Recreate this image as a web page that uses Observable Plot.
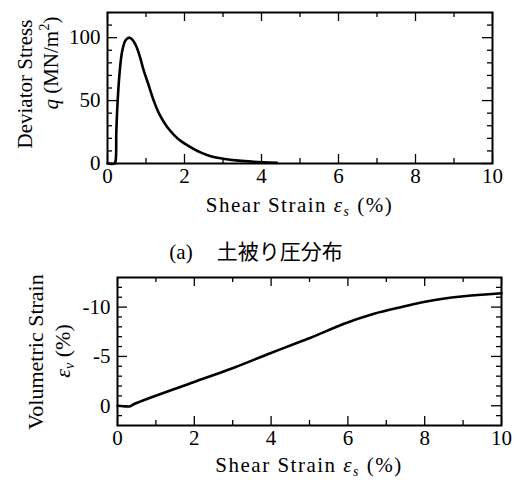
<!DOCTYPE html>
<html><head><meta charset="utf-8">
<script src="https://cdn.jsdelivr.net/npm/d3@7"></script>
<script src="https://cdn.jsdelivr.net/npm/@observablehq/plot@0.6"></script>
<style>
body{margin:0;background:#fff;}
#wrap{position:relative;width:518px;height:480px;font-family:"Liberation Serif","Times New Roman",serif;color:#000;overflow:hidden;}
#wrap svg{position:absolute;left:0;}
#wrap svg text{font-family:"Liberation Serif","Times New Roman",serif;}
.abs{position:absolute;white-space:nowrap;line-height:1;font-family:"Liberation Serif","Times New Roman",serif;}
.rot{transform:translate(-50%,-50%) rotate(-90deg);}
.ctr{transform:translate(-50%,-50%);}
.sb{position:relative;top:0.3em;font-size:0.65em;}
.sp{position:relative;top:-0.6em;font-size:0.7em;}
</style></head><body><div id="wrap"></div>
<script>
// Panel 1: deviator stress vs shear strain
const strainQ   = [0, 0.18, 0.21, 0.23, 0.27, 0.32, 0.38, 0.47, 0.58, 0.68, 0.75, 0.85, 0.94, 1.05, 1.2, 1.35, 1.55, 1.75, 1.9, 2.1, 2.4, 2.7, 3.0, 3.4, 3.8, 4.4];
const deviatorQ = [0, 0,    2,    26,   53,   74,   89,   98,   100,  97,   93,   84,   74,   64,   50,  39,   29,   22,   18,  14,  9,   5.6, 3.8, 2.3, 1.4, 0.5];
// Panel 2: volumetric strain vs shear strain
const strainV     = [0, 0.15, 0.33, 0.42, 0.94, 1.98, 3.03, 3.98, 4.77, 5.03, 5.90, 6.68, 7.38, 8.08, 8.95, 10.0];
const volumetricV = [0, 0.05, 0.05, -0.15, -0.94, -2.39, -3.85, -5.33, -6.51, -6.89, -8.31, -9.32, -9.99, -10.6, -11.07, -11.4];

const xTicksMajor = [0, 2, 4, 6, 8, 10];
const xTicksMinor = [1, 3, 5, 7, 9];
const qTicksMajor = [0, 50, 100];
const qTicksMinor = [10, 20, 30, 40, 60, 70, 80, 90, 110];
const vTicksMajor = [-10, -5, 0];
const vTicksMinor = [-12, -11, -9, -8, -7, -6, -4, -3, -2, -1, 1];

const xLabel = 'Shear Strain <i>ε<span class="sb">s</span></i> (%)';
const SERIF = '"Liberation Serif", "Times New Roman", serif';

function innerTicks(xMaj, xMin, yMaj, yMin, iw, ih) {
  const sw = 1.3, maj = 9, min = 5;
  const m = [];
  for (const [vals, len] of [[xMaj, maj], [xMin, min]]) {
    m.push(Plot.tickX(vals, {x: d => d, insetTop: ih - len, strokeWidth: sw}));
    m.push(Plot.tickX(vals, {x: d => d, insetBottom: ih - len, strokeWidth: sw}));
  }
  for (const [vals, len] of [[yMaj, 10], [yMin, min]]) {
    m.push(Plot.tickY(vals, {y: d => d, insetRight: iw - len, strokeWidth: sw}));
    m.push(Plot.tickY(vals, {y: d => d, insetLeft: iw - len, strokeWidth: sw}));
  }
  return m;
}

function panel(o) {
  const iw = o.width - o.marginLeft - o.marginRight;
  const ih = o.height - o.marginTop - o.marginBottom;
  const svg = Plot.plot({
    width: o.width, height: o.height,
    marginLeft: o.marginLeft, marginRight: o.marginRight,
    marginTop: o.marginTop, marginBottom: o.marginBottom,
    style: {fontFamily: SERIF, fontSize: "21px", background: "transparent", color: "#000"},
    x: {domain: [0, 10]},
    y: {domain: o.yDomain},
    marks: [
      Plot.axisX(xTicksMajor, {tickSize: 0, tickPadding: 5, label: null, fontSize: 21, fontFamily: SERIF, tickFormat: d => String(d)}),
      Plot.axisY(o.yMajor, {tickSize: 0, tickPadding: 7, label: null, fontSize: 21, fontFamily: SERIF, tickFormat: d => String(d)}),
      ...innerTicks(xTicksMajor, xTicksMinor, o.yMajor, o.yMinor, iw, ih),
      Plot.line(o.xs.map((x, i) => ({x, y: o.ys[i]})), {x: "x", y: "y", stroke: "#000", strokeWidth: 2.6, curve: "catmull-rom"}),
      Plot.frame({stroke: "#000", strokeWidth: 2})
    ]
  });
  svg.style.top = o.top + "px";
  return svg;
}

const wrap = document.getElementById("wrap");
wrap.appendChild(panel({
  top: 0, width: 518, height: 225, marginLeft: 107, marginRight: 26, marginTop: 12, marginBottom: 62,
  yDomain: [0, 120], yMajor: qTicksMajor, yMinor: qTicksMinor, xs: strainQ, ys: deviatorQ
}));
wrap.appendChild(panel({
  top: 262, width: 518, height: 218, marginLeft: 117, marginRight: 17, marginTop: 15, marginBottom: 55,
  yDomain: [2, -13], yMajor: vTicksMajor, yMinor: vTicksMinor, xs: strainV, ys: volumetricV
}));

function addText(html, x, y, cls, extra) {
  const d = document.createElement("div");
  d.className = "abs " + cls;
  d.style.left = x + "px";
  d.style.top = y + "px";
  Object.assign(d.style, extra || {});
  d.innerHTML = html;
  wrap.appendChild(d);
}
addText(xLabel, 299.5, 205, "ctr", {fontSize: "21px", letterSpacing: "1.5px"});
addText(xLabel, 309, 465, "ctr", {fontSize: "21px", letterSpacing: "1.5px"});
addText("Deviator Stress", 25, 83.5, "rot", {fontSize: "21px"});
addText('<i>q</i> (MN/m<span class="sp">2</span>)', 50.5, 62.5, "rot", {fontSize: "21px"});
addText("Volumetric Strain", 35.7, 352, "rot", {fontSize: "22px"});
addText('<i>ε<span class="sb">v</span></i> (%)', 62.5, 350.5, "rot", {fontSize: "22px"});
addText('(a)<span style="display:inline-block;width:24px"></span><span style="font-family:\'Noto Sans CJK JP\'">土被り圧分布</span>', 256, 251, "ctr", {fontSize: "21px"});
</script>
</body></html>
